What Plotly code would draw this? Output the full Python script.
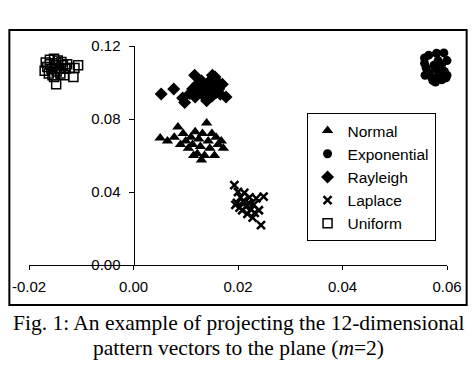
import plotly.graph_objects as go

normal_x = [0.0051, 0.0065, 0.0078, 0.0085, 0.0090, 0.0095, 0.0100, 0.0105, 0.0110, 0.0113,
            0.0118, 0.0122, 0.0125, 0.0128, 0.0132, 0.0136, 0.0140, 0.0143, 0.0146, 0.0150,
            0.0155, 0.0158, 0.0162, 0.0168, 0.0172, 0.0130, 0.0115]
normal_y = [0.0696, 0.0680, 0.0700, 0.0756, 0.0660, 0.0720, 0.0680, 0.0640, 0.0700, 0.0660,
            0.0730, 0.0610, 0.0690, 0.0650, 0.0720, 0.0600, 0.0778, 0.0680, 0.0640, 0.0720,
            0.0600, 0.0700, 0.0660, 0.0680, 0.0640, 0.0575, 0.0600]

expo_x = [0.0565, 0.0580, 0.0594, 0.0600, 0.0557, 0.0557, 0.0575, 0.0590, 0.0605, 0.0560,
          0.0580, 0.0595, 0.0565, 0.0585, 0.0600, 0.0570, 0.0590, 0.0578, 0.0598, 0.0558,
          0.0583, 0.0573]
expo_y = [0.1150, 0.1160, 0.1162, 0.1120, 0.1134, 0.1105, 0.1095, 0.1100, 0.1085, 0.1080,
          0.1070, 0.1060, 0.1055, 0.1040, 0.1040, 0.1030, 0.1015, 0.1003, 0.1025, 0.1040,
          0.1120, 0.1010]

rayl_x = [0.0053, 0.0077, 0.0094, 0.0108, 0.0113, 0.0118, 0.0122, 0.0127, 0.0130, 0.0133,
          0.0137, 0.0140, 0.0143, 0.0147, 0.0150, 0.0153, 0.0156, 0.0158, 0.0160, 0.0163,
          0.0166, 0.0170, 0.0177, 0.0098, 0.0117, 0.0151]
rayl_y = [0.0937, 0.0965, 0.0915, 0.0940, 0.0965, 0.0920, 0.0990, 0.0950, 0.1010, 0.0930,
          0.0975, 0.0900, 0.1000, 0.0955, 0.0925, 0.0985, 0.1030, 0.0945, 0.1005, 0.0965,
          0.0935, 0.0990, 0.0920, 0.0890, 0.1040, 0.1040]

lapl_x = [0.0193, 0.0200, 0.0205, 0.0198, 0.0210, 0.0215, 0.0208, 0.0220, 0.0225, 0.0218,
          0.0230, 0.0235, 0.0228, 0.0240, 0.0249, 0.0244, 0.0212, 0.0203, 0.0222, 0.0232,
          0.0195]
lapl_y = [0.0438, 0.0400, 0.0370, 0.0340, 0.0350, 0.0320, 0.0300, 0.0340, 0.0305, 0.0280,
          0.0330, 0.0365, 0.0260, 0.0300, 0.0375, 0.0219, 0.0395, 0.0315, 0.0370, 0.0285,
          0.0330]

unif_x = [-0.0168, -0.0160, -0.0152, -0.0145, -0.0138, -0.0165, -0.0157, -0.0150, -0.0142, -0.0135,
          -0.0130, -0.0162, -0.0155, -0.0147, -0.0140, -0.0127, -0.0122, -0.0113, -0.0106, -0.0115,
          -0.0148, -0.0152, -0.0170, -0.0133, -0.0160, -0.0148]
unif_y = [0.1110, 0.1125, 0.1130, 0.1120, 0.1112, 0.1085, 0.1072, 0.1095, 0.1080, 0.1095,
          0.1075, 0.1050, 0.1040, 0.1060, 0.1050, 0.1100, 0.1080, 0.1080, 0.1095, 0.1030,
          0.0990, 0.1030, 0.1065, 0.1040, 0.1100, 0.1105]

x_ticks = [-0.02, 0.00, 0.02, 0.04, 0.06]
x_tick_labels = ["-0.02", "0.00", "0.02", "0.04", "0.06"]
y_ticks = [0.00, 0.04, 0.08, 0.12]
y_tick_labels = ["0.00", "0.04", "0.08", "0.12"]

series = [
    ("Normal", normal_x, normal_y, dict(symbol="triangle-up", size=10, color="black")),
    ("Exponential", expo_x, expo_y, dict(symbol="circle", size=9, color="black")),
    ("Rayleigh", rayl_x, rayl_y, dict(symbol="diamond", size=10, color="black")),
    ("Laplace", lapl_x, lapl_y, dict(symbol="x-thin", size=8, color="black",
                                     line=dict(width=2.5, color="black"))),
    ("Uniform", unif_x, unif_y, dict(symbol="square-open", size=9, color="black",
                                     line=dict(width=1.5, color="black"))),
]

fig = go.Figure()
for i, (name, xs, ys, mk) in enumerate(series):
    fig.add_trace(go.Scatter(x=xs, y=ys, mode="markers", name=name, marker=mk,
                             legendgroup=str(i), cliponaxis=False))

serif = "Liberation Serif, Times New Roman, serif"
fig.update_layout(
    width=474, height=366,
    margin=dict(l=22, r=26, t=46, b=101),
    paper_bgcolor="white", plot_bgcolor="white",
    font=dict(family="Arial, Liberation Sans, sans-serif", size=15, color="black"),
    showlegend=True,
    legend=dict(x=0.664, y=0.694, xanchor="left", yanchor="top",
                bordercolor="black", borderwidth=1, bgcolor="white",
                font=dict(size=15.5), tracegroupgap=0),
    xaxis=dict(range=[-0.02, 0.06], tickvals=x_ticks, ticktext=x_tick_labels,
               showgrid=False, zeroline=False, showline=True, linecolor="black",
               linewidth=1, ticks="outside", ticklen=4, tickcolor="black",
               ticklabelstandoff=4),
    yaxis=dict(range=[0, 0.12], tickvals=y_ticks, ticktext=y_tick_labels,
               showgrid=False, zeroline=False, showline=True, linecolor="black",
               linewidth=1, ticks="outside", ticklen=5, tickcolor="black",
               anchor="free", position=0.25, ticklabelstandoff=5),
    shapes=[dict(type="rect", xref="paper", yref="paper",
                 x0=-0.047, x1=1.047, y0=-0.183, y1=1.073,
                 line=dict(color="black", width=2))],
    annotations=[dict(xref="paper", yref="paper", x=0.5, y=-0.2648, xanchor="center",
                      yanchor="middle", showarrow=False,
                      text="Fig. 1: An example of projecting the 12-dimensional",
                      font=dict(family=serif, size=21.5)),
                 dict(xref="paper", yref="paper", x=0.5, y=-0.379, xanchor="center",
                      yanchor="middle", showarrow=False,
                      text="pattern vectors to the plane (<i>m</i>=2)",
                      font=dict(family=serif, size=21.5))],
)

fig.write_html("out.html", config={"displayModeBar": False},
               post_script="document.body.style.margin='0px';")
